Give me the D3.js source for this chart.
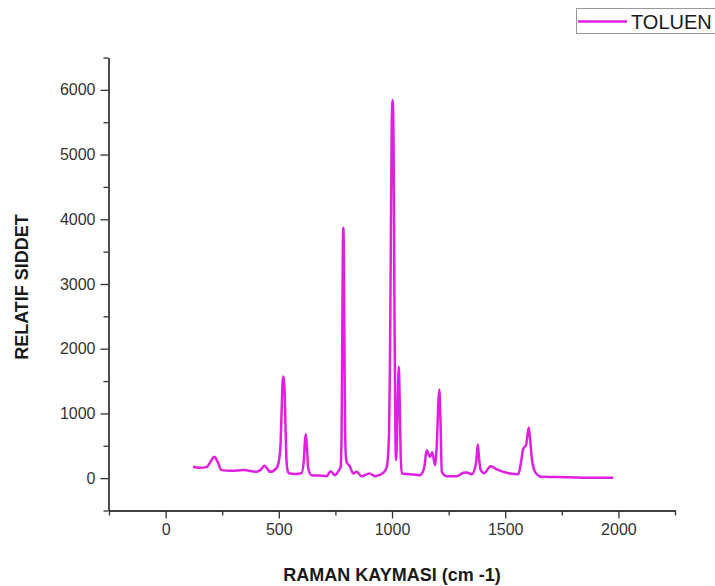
<!doctype html>
<html>
  <meta charset="utf-8">
  <head>
    <script src="https://d3js.org/d3.v7.min.js"></script>
    <style type='text/css'>
      body{ margin:0; background:#fff; }
      .axis path.domain, .axis g.tick line{
        stroke: #333;
        stroke-width: 1.3px;
      }
      .axis text{
        font-family: Arial, "Liberation Sans", sans-serif;
        font-size: 16px;
        fill: #333;
      }
      .title{
        font-family: Arial, "Liberation Sans", sans-serif;
        font-size: 18px;
        font-weight: bold;
        fill: #1a1a1a;
      }
    </style>
  </head>
  <body>
    <svg id='raman'></svg>
    <script type='text/javascript'>
      // raman shift (cm-1) and intensity
      var ramanShift = [121,150,180,200,215,230,247,290,345,402,420,436,450,461,490,502,508,513,517,521,525,529,533,538,545,570,600,610,615,619,624,630,645,680,711,729,748,765,773,777,780,783,785,787,790,793,797,802,811,829,844,866,900,925,962,977,987,991,995,999,1003,1007,1011,1015,1018,1023,1027,1030,1034,1038,1043,1080,1124,1135,1143,1153,1168,1178,1190,1200,1205,1209,1214,1220,1242,1286,1315,1330,1352,1371,1379,1386,1392,1407,1436,1463,1492,1521,1558,1569,1580,1592,1604,1610,1617,1632,1661,1772,1890,1978];
      var intensity  = [175,160,170,260,330,250,124,113,124,97,130,190,140,97,155,300,550,1100,1500,1570,1400,900,350,130,75,65,75,250,550,680,500,150,46,40,31,108,46,120,175,600,2000,3600,3870,3600,2000,700,300,230,200,73,97,31,73,31,82,175,700,1800,3700,5500,5842,5200,2500,700,278,800,1500,1720,1200,400,73,62,46,90,175,430,330,400,200,700,1200,1371,900,97,31,31,82,88,62,227,525,250,124,77,185,134,97,73,62,227,459,510,783,600,330,97,20,15,5,5];
      var seriesName = 'TOLUEN';
      var xTicks = [0,500,1000,1500,2000];
      var yTicks = [0,1000,2000,3000,4000,5000,6000];
      var xDomain = [-250,2250];
      var yDomain = [-500,6500];

      var w = 715, h = 586;
      var svg = d3.select('#raman').attr('width',w).attr('height',h);

      var xScale = d3.scaleLinear().domain(xDomain).range([109,675]);
      var yScale = d3.scaleLinear().domain(yDomain).range([510.5,57.5]);

      var points = ramanShift.map((d,i)=>{ return {x:d, y:intensity[i]}; });

      // minor ticks first (no labels), then major
      var xMinor = d3.range(xDomain[0],xDomain[1]+1,250).filter((d)=>xTicks.indexOf(d)<0);
      var yMinor = d3.range(yDomain[0],yDomain[1]+1,500).filter((d)=>yTicks.indexOf(d)<0);

      svg.append('g').attr('class','axis')
        .attr('transform','translate(0,510.5)')
        .call(d3.axisBottom(xScale).tickValues(xMinor).tickSize(5).tickSizeOuter(0).tickFormat(''));
      svg.append('g').attr('class','axis')
        .attr('transform','translate(0,510.5)')
        .call(d3.axisBottom(xScale).tickValues(xTicks).tickSize(8).tickSizeOuter(0).tickPadding(5).tickFormat(d3.format('d')));

      svg.append('g').attr('class','axis')
        .attr('transform','translate(108.5,0)')
        .call(d3.axisLeft(yScale).tickValues(yMinor).tickSize(5).tickSizeOuter(0).tickFormat(''));
      svg.append('g').attr('class','axis')
        .attr('transform','translate(108.5,0)')
        .call(d3.axisLeft(yScale).tickValues(yTicks).tickSize(8).tickSizeOuter(0).tickPadding(5).tickFormat(d3.format('d')));

      // spectrum
      var line = d3.line()
        .x((d)=>xScale(d.x))
        .y((d)=>yScale(d.y))
        .curve(d3.curveMonotoneX);
      svg.append('path').datum(points)
        .attr('d',line)
        .attr('fill','none')
        .style('stroke','#e01fe0')
        .style('stroke-width','2.5px')
        .style('stroke-linejoin','round');

      // axis titles
      svg.append('text').attr('class','title')
        .attr('x',392).attr('y',581)
        .attr('text-anchor','middle')
        .text('RAMAN KAYMASI (cm -1)');
      svg.append('text').attr('class','title')
        .attr('transform','translate(28,287) rotate(-90)')
        .attr('text-anchor','middle')
        .text('RELATIF SIDDET');

      // legend
      var lg = svg.append('g');
      lg.append('rect').attr('x',576.5).attr('y',8.5).attr('width',150).attr('height',25)
        .attr('fill','#fff').style('stroke','#999').style('stroke-width','1px');
      lg.append('line').attr('x1',578).attr('x2',627).attr('y1',21.5).attr('y2',21.5)
        .style('stroke','#e01fe0').style('stroke-width','2.5px');
      lg.append('text').attr('x',631).attr('y',28.5)
        .style('font-family','Arial, "Liberation Sans", sans-serif')
        .style('font-size','20px').style('fill','#1a1a1a')
        .text(seriesName);
    </script>
  </body>
</html>
